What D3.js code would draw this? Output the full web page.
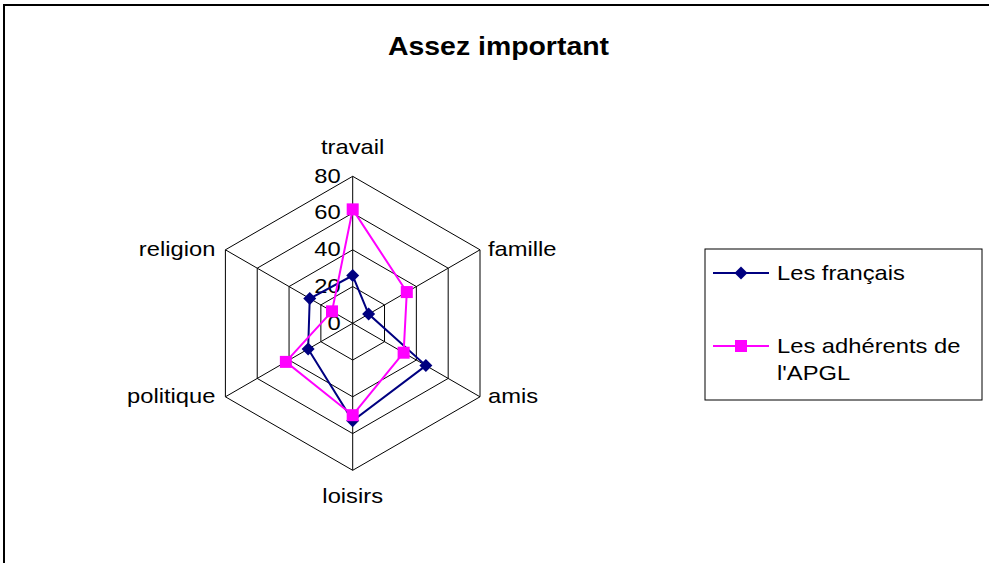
<!DOCTYPE html>
<html>
<head>
<meta charset="utf-8">
<script src="https://cdn.jsdelivr.net/npm/d3@7"></script>
<style>
  html, body { margin: 0; padding: 0; background: #fff; }
  svg { display: block; }
  text { font-family: "Liberation Sans", Arial, sans-serif; fill: #000; }
</style>
</head>
<body>
<script>
const title = "Assez important";
const categories = ["travail", "famille", "amis", "loisirs", "politique", "religion"];
const seriesNames = ["Les français", "Les adhérents de l'APGL"];
const francais = [26, 10, 46, 53, 28, 27];
const adherents = [62, 34, 32, 50, 42, 13];
const tickValues = [0, 20, 40, 60, 80];

const W = 989, H = 563;
const cx = 352.7, cy = 323.3;
const stretch = 1.13;

const svg = d3.select("body").append("svg").attr("width", W).attr("height", H);

// outer chart border (top and left visible)
svg.append("path")
  .attr("d", `M4,${H + 5} L4,5 L${W + 5},5`)
  .attr("fill", "none").attr("stroke", "#000").attr("stroke-width", 2);

const r = d3.scaleLinear().domain([0, 80]).range([0, 147]);
const angle = d3.scalePoint().domain(categories).range([0, 2 * Math.PI * (categories.length - 1) / categories.length]);

function pt(cat, v) {
  const a = angle(cat);
  return [cx + r(v) * Math.sin(a), cy - r(v) * Math.cos(a)];
}

function stretchText(sel) {
  sel.each(function () {
    const len = this.getComputedTextLength();
    d3.select(this).attr("textLength", len * stretch).attr("lengthAdjust", "spacingAndGlyphs");
  });
}

// title
svg.append("text").attr("x", 498.5).attr("y", 55).attr("text-anchor", "middle")
  .style("font-size", "25px").style("font-weight", "bold").text(title)
  .attr("textLength", 221).attr("lengthAdjust", "spacingAndGlyphs");

// grid hexagons
const grid = svg.append("g");
tickValues.filter(v => v > 0).forEach(v => {
  grid.append("path")
    .attr("d", d3.line()(categories.map(c => pt(c, v))) + "Z")
    .attr("fill", "none").attr("stroke", "#000").attr("stroke-width", 1);
});
categories.forEach(c => {
  const [x, y] = pt(c, 80);
  grid.append("line").attr("x1", cx).attr("y1", cy).attr("x2", x).attr("y2", y)
    .attr("stroke", "#000").attr("stroke-width", 1);
});

// tick labels
tickValues.forEach(v => {
  svg.append("text").attr("x", cx - 12).attr("y", cy - r(v)).attr("dy", "0.3em")
    .attr("text-anchor", "end").style("font-size", "21px").text(v).call(stretchText);
});

// category labels
categories.forEach(c => {
  const [x, y] = pt(c, 80);
  const a = angle(c) * 180 / Math.PI;
  let tx = x, ty = y, anchor = "middle";
  if (Math.abs(a) < 1) { ty = y - 22; }
  else if (Math.abs(a - 180) < 1) { ty = y + 33; }
  else if (a < 180) { tx = x + 8; ty = y + 6; anchor = "start"; }
  else { tx = x - 10; ty = y + 6; anchor = "end"; }
  svg.append("text").attr("x", tx).attr("y", ty).attr("text-anchor", anchor)
    .style("font-size", "21px").text(c).call(stretchText);
});

// series
const series = [
  { name: seriesNames[0], values: francais, color: "#000080", marker: "diamond" },
  { name: seriesNames[1], values: adherents, color: "#FF00FF", marker: "square" }
];

function drawMarker(g, type, x, y, color) {
  if (type === "diamond") {
    g.append("path").attr("d", `M${x},${y - 6.5} L${x + 6.5},${y} L${x},${y + 6.5} L${x - 6.5},${y} Z`)
      .attr("fill", color);
  } else {
    g.append("rect").attr("x", x - 6).attr("y", y - 6).attr("width", 12).attr("height", 12)
      .attr("fill", color);
  }
}

series.forEach(s => {
  const pts = categories.map((c, i) => pt(c, s.values[i]));
  const g = svg.append("g");
  g.append("path").attr("d", d3.line()(pts) + "Z")
    .attr("fill", "none").attr("stroke", s.color).attr("stroke-width", 2);
  pts.forEach(([x, y]) => drawMarker(g, s.marker, x, y, s.color));
});

// legend
const lg = svg.append("g");
lg.append("rect").attr("x", 705).attr("y", 249).attr("width", 277).attr("height", 151)
  .attr("fill", "#fff").attr("stroke", "#000").attr("stroke-width", 1);
const legendRows = [
  { s: series[0], y: 273, lines: ["Les français"] },
  { s: series[1], y: 346, lines: ["Les adhérents de", "l'APGL"] }
];
legendRows.forEach(row => {
  lg.append("line").attr("x1", 713).attr("x2", 769).attr("y1", row.y).attr("y2", row.y)
    .attr("stroke", row.s.color).attr("stroke-width", 2);
  drawMarker(lg, row.s.marker, 741, row.y, row.s.color);
  row.lines.forEach((t, i) => {
    lg.append("text").attr("x", 777).attr("y", row.y + 7 + i * 27)
      .style("font-size", "21px").text(t).call(stretchText);
  });
});
</script>
</body>
</html>
